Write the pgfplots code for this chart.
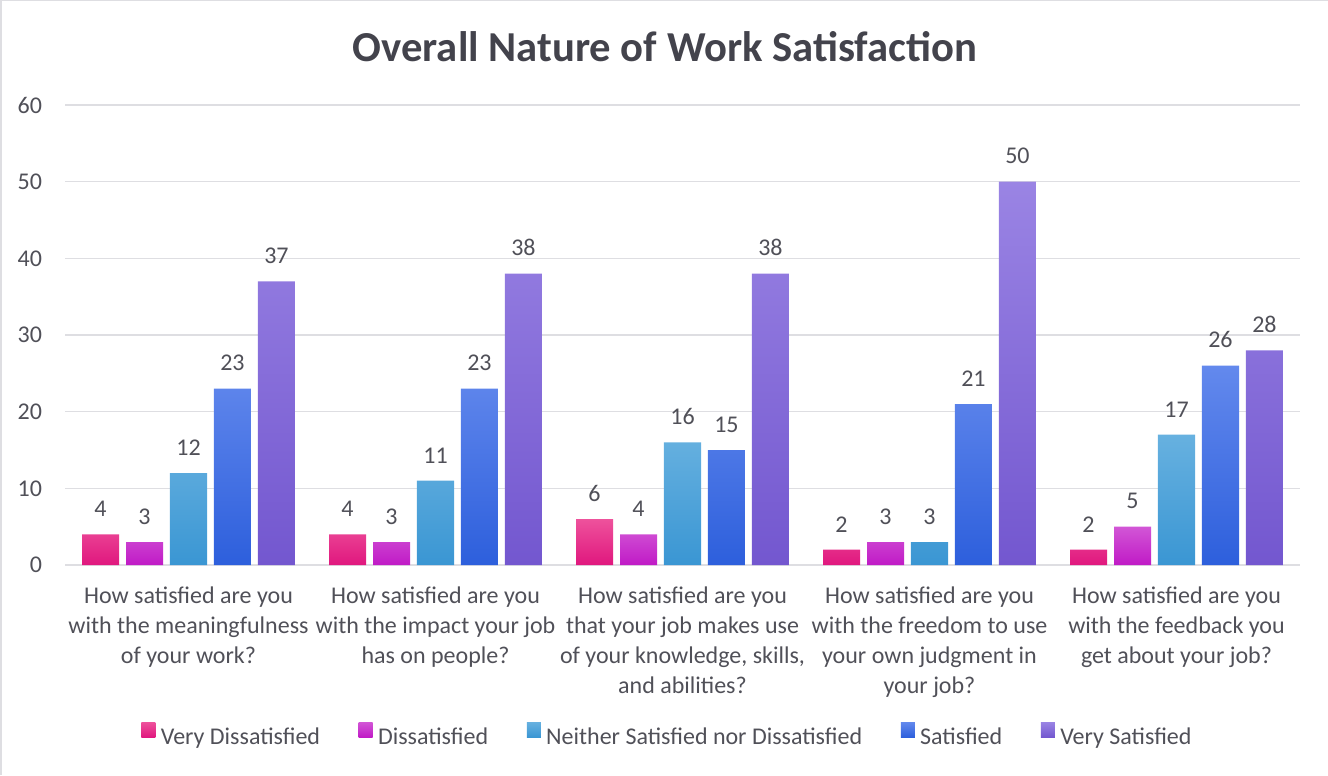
\documentclass[border=0pt]{standalone}
\usepackage{fontspec}
\setmainfont{Carlito}
\usepackage{pgfplots}
\pgfplotsset{compat=1.18}

\definecolor{vdTop}{HTML}{EE529C}\definecolor{vdBot}{HTML}{E0177E}
\definecolor{dTop}{HTML}{D256D6}\definecolor{dBot}{HTML}{C01AC6}
\definecolor{nTop}{HTML}{67B1E0}\definecolor{nBot}{HTML}{3A96D3}
\definecolor{sTop}{HTML}{6389ED}\definecolor{sBot}{HTML}{2D5FDC}
\definecolor{vsTop}{HTML}{9A84E4}\definecolor{vsBot}{HTML}{7357CF}
\definecolor{gridgray}{HTML}{DEDEE2}
\definecolor{labelgray}{HTML}{505058}
\definecolor{titlegray}{HTML}{43434C}

\newcommand{\lblfont}{\fontsize{18}{22.5}\selectfont}

\begin{document}
\begin{tikzpicture}
\useasboundingbox (-48.75pt,-157.5pt) rectangle (947.25pt,423.75pt);
% chart frame: only the top and left edges show
\draw[gridgray,line width=2pt] (-48pt,-157.5pt) -- (-48pt,423pt);
\draw[gridgray,line width=1pt] (-48.75pt,423.25pt) -- (947.25pt,423.25pt);
\node[font=\fontsize{32}{38}\selectfont\bfseries,text=titlegray] at (450pt,388.5pt) {Overall Nature of Work Satisfaction};
\begin{axis}[at={(0,0)},anchor=south west,scale only axis,width=926.25pt,height=345pt,
  xmin=-0.5,xmax=4.5,ymin=0,ymax=60,
  xtick={0,1,2,3,4},ytick={0,10,...,60},
  xticklabels={{How satisfied are you\\with the meaningfulness\\of your work?},
    {How satisfied are you\\with the impact your job\\has on people?},
    {How satisfied are you\\that your job makes use\\of your knowledge, skills,\\and abilities?},
    {How satisfied are you\\with the freedom to use\\your own judgment in\\your job?},
    {How satisfied are you\\with the feedback you\\get about your job?}},
  xticklabel style={align=center,font=\lblfont,text=labelgray,anchor=north,inner sep=0pt,yshift=-16.5pt},
  yticklabel style={font=\lblfont,text=labelgray,anchor=east,inner sep=0pt,xshift=-17pt},
  /pgf/number format/assume math mode=true,
  axis line style={draw=none},major tick length=0pt,
  ymajorgrids,grid style={draw=gridgray,line width=1.1pt},
  ybar,bar width=0.15,
  every axis plot/.append style={draw=none},
  nodes near coords,
  every node near coord/.append style={font=\lblfont,text=labelgray,anchor=south,inner sep=0pt,yshift=13pt},
  legend columns=5,
  legend image code/.code={\path (0pt,0pt) -- (12.5pt,0pt);\path[#1,draw=none] (0pt,0pt) rectangle (10.5pt,11.5pt);},
  legend style={at={(0.5,0)},anchor=center,xshift=-11pt,yshift=-128pt,draw=none,fill=none,
    font=\lblfont,text=labelgray,
    nodes={inner sep=2pt},
    /tikz/every even column/.append style={column sep=27pt}},
]
\addplot[bar shift=-0.356,top color=vdTop,bottom color=vdBot] coordinates {(0,4)(1,4)(2,6)(3,2)(4,2)};
\addplot[bar shift=-0.178,top color=dTop,bottom color=dBot] coordinates {(0,3)(1,3)(2,4)(3,3)(4,5)};
\addplot[bar shift=0,top color=nTop,bottom color=nBot] coordinates {(0,12)(1,11)(2,16)(3,3)(4,17)};
\addplot[bar shift=0.178,top color=sTop,bottom color=sBot] coordinates {(0,23)(1,23)(2,15)(3,21)(4,26)};
\addplot[bar shift=0.356,top color=vsTop,bottom color=vsBot] coordinates {(0,37)(1,38)(2,38)(3,50)(4,28)};
\legend{Very Dissatisfied,Dissatisfied,Neither Satisfied nor Dissatisfied,Satisfied,Very Satisfied}
\end{axis}
\end{tikzpicture}
\end{document}
